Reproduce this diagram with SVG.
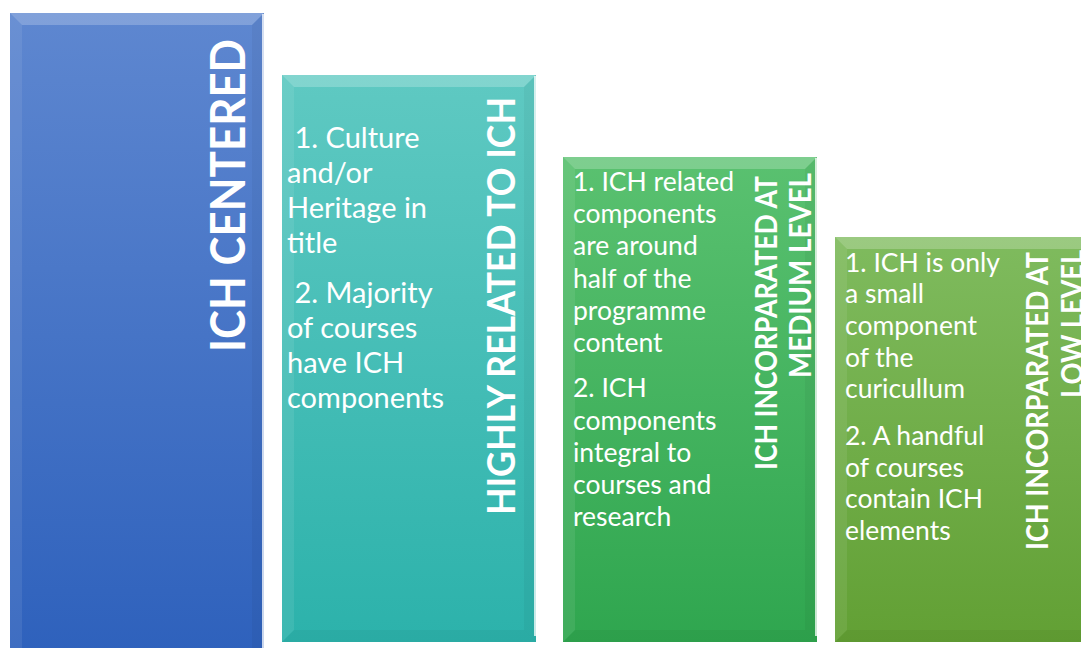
<svg xmlns="http://www.w3.org/2000/svg" width="1081" height="648" viewBox="0 0 1081 648">
<defs>
<linearGradient id="g1" x1="0" y1="0" x2="0" y2="1"><stop offset="0" stop-color="#5e87d0"/><stop offset="1" stop-color="#2e61bc"/></linearGradient>
<linearGradient id="g2" x1="0" y1="0" x2="0" y2="1"><stop offset="0" stop-color="#5fc9c2"/><stop offset="1" stop-color="#2cb2ab"/></linearGradient>
<linearGradient id="g3" x1="0" y1="0" x2="0" y2="1"><stop offset="0" stop-color="#5ac170"/><stop offset="1" stop-color="#2fa64f"/></linearGradient>
<linearGradient id="g4" x1="0" y1="0" x2="0" y2="1"><stop offset="0" stop-color="#7fbb5e"/><stop offset="1" stop-color="#62a034"/></linearGradient>
</defs>
<style>
.top{fill:#ffffff;fill-opacity:0.22}
.left{fill:#ffffff;fill-opacity:0.08}
.right{fill:#000000;fill-opacity:0.04}
.bot{fill:#000000;fill-opacity:0.04}
.edge{stroke:#ffffff;stroke-opacity:0.75;stroke-width:2;fill:none}
.t{font-family:Lato,"Open Sans",sans-serif;fill:#ffffff}
.body2{font-size:29px}
.body{font-size:26.5px}
.v{font-family:Lato,"Open Sans",sans-serif;font-weight:bold;fill:#ffffff}
</style>
<rect width="1081" height="648" fill="#ffffff"/>
<g id="connectors"/>
<g id="bar1">
<rect x="10" y="13" width="254" height="645" fill="url(#g1)"/>
<polygon class="top" points="10,13 264,13 252,25 22,25"/>
<polygon class="left" points="10,13 22,25 22,658 10,658"/>
<polygon class="right" points="264,13 264,658 252,658 252,25"/>
<line class="edge" x1="263" y1="14" x2="263" y2="648"/>
<text class="v" font-size="48" transform="translate(245,352) rotate(-90)" textLength="313" lengthAdjust="spacingAndGlyphs">ICH CENTERED</text>
</g>
<g id="bar2">
<rect x="282" y="75" width="254" height="567" fill="url(#g2)"/>
<polygon class="top" points="282,75 536,75 524,87 294,87"/>
<polygon class="left" points="282,75 294,87 294,630 282,642"/>
<polygon class="right" points="536,75 536,642 524,630 524,87"/>
<polygon class="bot" points="282,642 536,642 524,630 294,630"/>
<line class="edge" x1="535" y1="76" x2="535" y2="636"/>
<text class="t body2" xml:space="preserve"><tspan x="287" y="148"> 1. Culture</tspan><tspan x="287" y="183">and/or</tspan><tspan x="287" y="218">Heritage in</tspan><tspan x="287" y="253">title</tspan><tspan x="287" y="303"> 2. Majority</tspan><tspan x="287" y="338">of courses</tspan><tspan x="287" y="373">have ICH</tspan><tspan x="287" y="408">components</tspan></text>
<text class="v" font-size="39" transform="translate(515,515) rotate(-90)" textLength="418" lengthAdjust="spacingAndGlyphs">HIGHLY RELATED TO ICH</text>
</g>
<g id="bar3">
<rect x="563" y="157" width="254" height="485" fill="url(#g3)"/>
<polygon class="top" points="563,157 817,157 805,169 575,169"/>
<polygon class="left" points="563,157 575,169 575,630 563,642"/>
<polygon class="right" points="817,157 817,642 805,630 805,169"/>
<polygon class="bot" points="563,642 817,642 805,630 575,630"/>
<line class="edge" x1="816" y1="158" x2="816" y2="636"/>
<text class="t body"><tspan x="573" y="191">1. ICH related</tspan><tspan x="573" y="223">components</tspan><tspan x="573" y="255">are around</tspan><tspan x="573" y="288">half of the</tspan><tspan x="573" y="320">programme</tspan><tspan x="573" y="352">content</tspan><tspan x="573" y="397">2. ICH</tspan><tspan x="573" y="430">components</tspan><tspan x="573" y="462">integral to</tspan><tspan x="573" y="494">courses and</tspan><tspan x="573" y="526">research</tspan></text>
<text class="v" font-size="31" transform="translate(777,470) rotate(-90)" textLength="294" lengthAdjust="spacingAndGlyphs">ICH INCORPARATED AT</text>
<text class="v" font-size="31" transform="translate(811,378) rotate(-90)" textLength="205" lengthAdjust="spacingAndGlyphs">MEDIUM LEVEL</text>
</g>
<g id="bar4">
<rect x="835" y="237" width="260" height="405" fill="url(#g4)"/>
<polygon class="top" points="835,237 1095,237 1083,249 847,249"/>
<polygon class="left" points="835,237 847,249 847,630 835,642"/>
<polygon class="bot" points="835,642 1095,642 1083,630 847,630"/>
<text class="t body"><tspan x="845" y="272">1. ICH is only</tspan><tspan x="845" y="303">a small</tspan><tspan x="845" y="335">component</tspan><tspan x="845" y="367">of the</tspan><tspan x="845" y="398">curicullum</tspan><tspan x="845" y="445">2. A handful</tspan><tspan x="845" y="477">of courses</tspan><tspan x="845" y="508">contain ICH</tspan><tspan x="845" y="540">elements</tspan></text>
<text class="v" font-size="31" transform="translate(1048,550) rotate(-90)" textLength="298" lengthAdjust="spacingAndGlyphs">ICH INCORPARATED AT</text>
<text class="v" font-size="31" transform="translate(1083,398) rotate(-90)" textLength="148" lengthAdjust="spacingAndGlyphs">LOW LEVEL</text>
</g>
</svg>
